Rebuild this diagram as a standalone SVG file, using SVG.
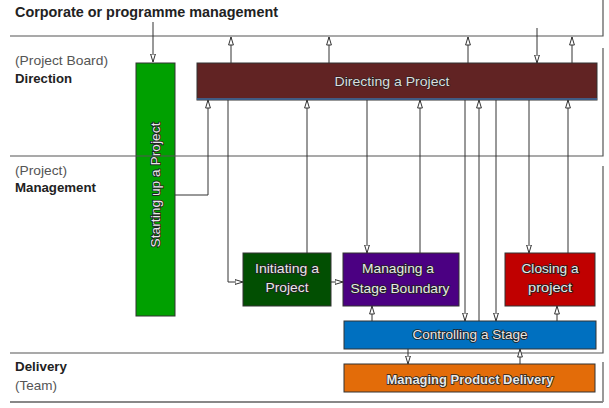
<svg xmlns="http://www.w3.org/2000/svg" width="609" height="408" viewBox="0 0 609 408">
<style>
.lane{fill:none;stroke:#555;stroke-width:1.2}
.lbl{font-family:"Liberation Sans",Arial,sans-serif;font-size:13px;fill:#555}
.lblb{font-family:"Liberation Sans",Arial,sans-serif;font-size:13px;font-weight:bold;fill:#222}
.box{stroke:#333;stroke-width:1}
.nt{font-family:"Liberation Sans",Arial,sans-serif;font-size:13px;fill:#e8e8e8;stroke:#222;stroke-width:1.6;paint-order:stroke;text-anchor:middle}
.cn{fill:none;stroke:#333;stroke-width:1;marker-end:url(#ah)}
.ln{fill:none;stroke:#333;stroke-width:1}
</style>
<defs>
<marker id="ah" viewBox="0 0 9 6" markerWidth="9" markerHeight="6" refX="8.5" refY="3" orient="auto" markerUnits="userSpaceOnUse">
<path d="M0.5,0.6 L8.5,3 L0.5,5.4 z" fill="#fff" stroke="#333" stroke-width="1"/>
</marker>
</defs>
<rect width="609" height="408" fill="#fff"/>
<g id="lanes">
<text x="15" y="17" class="lblb" style="font-size:14.5px" textLength="263" lengthAdjust="spacingAndGlyphs">Corporate or programme management</text>
<text x="15" y="65" class="lbl" textLength="93" lengthAdjust="spacingAndGlyphs">(Project Board)</text>
<text x="15" y="83" class="lblb" textLength="57" lengthAdjust="spacingAndGlyphs">Direction</text>
<text x="15" y="175" class="lbl" textLength="52" lengthAdjust="spacingAndGlyphs">(Project)</text>
<text x="15" y="192" class="lblb" textLength="81" lengthAdjust="spacingAndGlyphs">Management</text>
<text x="15" y="371" class="lblb" textLength="52" lengthAdjust="spacingAndGlyphs">Delivery</text>
<text x="15" y="390" class="lbl" textLength="42" lengthAdjust="spacingAndGlyphs">(Team)</text>
</g>
<g id="n-start">
<rect x="136" y="63" width="39" height="253" fill="#00a000" class="box"/>
<text class="nt" transform="translate(160,185) rotate(-90)" textLength="125" lengthAdjust="spacingAndGlyphs">Starting up a Project</text>
</g>
<g id="n-directing">
<rect x="197" y="63" width="400" height="37" fill="#612323" class="box"/>
<line x1="197" y1="99" x2="597" y2="99" stroke="#3a6ea5" stroke-width="1.5"/>
<text x="392" y="86" class="nt" style="stroke-width:1;fill:#dcdcdc" textLength="115" lengthAdjust="spacingAndGlyphs">Directing a Project</text>
</g>
<g id="n-initiating">
<rect x="243" y="253" width="88" height="53" fill="#024f02" class="box"/>
<text x="287" y="273" class="nt" textLength="64" lengthAdjust="spacingAndGlyphs">Initiating a</text>
<text x="287" y="292" class="nt" textLength="43" lengthAdjust="spacingAndGlyphs">Project</text>
</g>
<g id="n-msb">
<rect x="343" y="253" width="116" height="53" fill="#4b0082" class="box"/>
<text x="398" y="273" class="nt" textLength="72" lengthAdjust="spacingAndGlyphs">Managing a</text>
<text x="400" y="293" class="nt" textLength="99" lengthAdjust="spacingAndGlyphs">Stage Boundary</text>
</g>
<g id="n-closing">
<rect x="505" y="253" width="90" height="53" fill="#c00000" class="box"/>
<text x="550" y="273" class="nt" textLength="57" lengthAdjust="spacingAndGlyphs">Closing a</text>
<text x="550" y="292" class="nt" textLength="44" lengthAdjust="spacingAndGlyphs">project</text>
</g>
<g id="n-controlling">
<rect x="344" y="321" width="252" height="28" fill="#0070c0" class="box"/>
<text x="470" y="339" class="nt" textLength="115" lengthAdjust="spacingAndGlyphs">Controlling a Stage</text>
</g>
<g id="n-mpd">
<rect x="344" y="364" width="251" height="28" fill="#e36c09" class="box"/>
<text x="470" y="384" class="nt" style="font-weight:bold" textLength="167" lengthAdjust="spacingAndGlyphs">Managing Product Delivery</text>
</g>
<g id="borders">
<path class="lane" d="M10,36 H603 V0"/>
<path class="lane" d="M603,48 V156 H10"/>
<path class="lane" d="M603,166 V353 H10"/>
<path class="lane" d="M603,362 V402"/>
<line x1="10" y1="402" x2="603" y2="402" stroke="#888" stroke-width="2"/>
</g>
<g id="connectors">
<path class="cn" d="M153,22 V62"/>
<path class="cn" d="M231,63 V37"/>
<path class="cn" d="M329,63 V37"/>
<path class="cn" d="M468,63 V37"/>
<path class="cn" d="M537,28 V63"/>
<path class="cn" d="M572,63 V37"/>
<path class="cn" d="M175,195 H208 V100"/>
<path class="cn" d="M228,100 V282 H243"/>
<path class="cn" d="M307,253 V100"/>
<path class="cn" d="M367,100 V253"/>
<path class="cn" d="M420,253 V100"/>
<path class="cn" d="M465,100 V321"/>
<path class="cn" d="M479,321 V100"/>
<path class="cn" d="M496,100 V321"/>
<path class="cn" d="M529,100 V253"/>
<path class="cn" d="M568,253 V100"/>
<path class="cn" d="M331,282 H343"/>
<path class="cn" d="M372,321 V306"/>
<path class="cn" d="M557,321 V306"/>
<path class="cn" d="M408,349 V364"/>
<path class="cn" d="M520,364 V349"/>
</g>
</svg>
